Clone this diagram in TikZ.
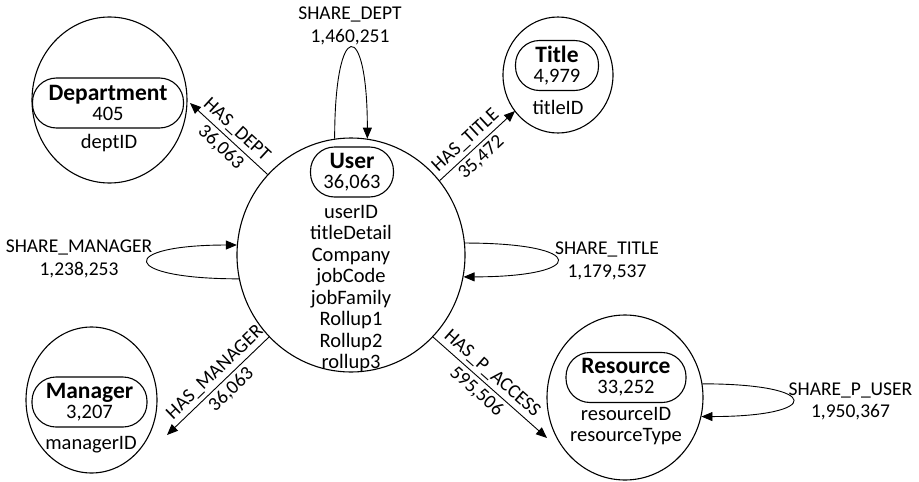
\documentclass[tikz,border=0pt]{standalone}
\usepackage{fontspec}
\setmainfont{Carlito}
\usetikzlibrary{arrows.meta,shapes.geometric,calc}
\newcommand\enttitle[1]{{\fontsize{23.5}{22}\selectfont\bfseries #1}}
\begin{document}
\begin{tikzpicture}[x=1pt,y=-1pt,
  entity/.style={draw, ellipse, line width=1.1pt, inner sep=0pt},
  pill/.style={draw, rectangle, rounded corners=24pt, line width=1.1pt, minimum height=50pt,
    inner sep=0pt, align=center, font=\fontsize{20.5}{20}\selectfont},
  attr/.style={align=center, inner sep=0pt, font=\fontsize{20.5}{21.5}\selectfont},
  rel/.style={line width=0.9pt, -{Triangle[length=11pt,width=9pt]}},
  lbl/.style={align=center, inner sep=0pt, font=\fontsize{19.5}{22.5}\selectfont},
  slbl/.style={sloped, inner sep=3.5pt, font=\fontsize{19.5}{19.5}\selectfont}
]
\useasboundingbox (0,0) rectangle (919,482);

% ---- entities ----
\node[entity, minimum width=228pt, minimum height=234pt] (user) at (351,255) {};
\node[pill, minimum width=83pt] (userpill) at (352,172) {\enttitle{User}\\36,063};
\node[attr] (userattr) at (351,288.5) {userID\\titleDetail\\Company\\jobCode\\jobFamily\\Rollup1\\Rollup2\\rollup3};

\node[entity, minimum width=155pt, minimum height=166pt] (dept) at (109.5,100) {};
\node[pill, minimum width=151pt] (deptpill) at (108,103) {\enttitle{Department}\\405};
\node[attr] (deptattr) at (109,143) {deptID};

\node[entity, minimum width=110pt, minimum height=116pt] (title) at (558,75) {};
\node[pill, minimum width=83pt] (titlepill) at (557,65.5) {\enttitle{Title}\\4,979};
\node[attr] (titleattr) at (558,107) {titleID};

\node[entity, minimum width=131pt, minimum height=146pt] (manager) at (91.5,400) {};
\node[pill, minimum width=115pt] (managerpill) at (89.5,402) {\enttitle{Manager}\\3,207};
\node[attr] (managerattr) at (91,445) {managerID};

\node[entity, minimum width=156pt, minimum height=165pt] (resource) at (625,397.5) {};
\node[pill, minimum width=120pt] (resourcepill) at (626,377.5) {\enttitle{Resource}\\33,252};
\node[attr] (resourceattr) at (626,426) {resourceID\\resourceType};

% ---- relationships ----
\draw[rel] (user.136) -- ([shift={(80.5,3)}]dept.center)
  node[slbl, above, pos=0.5] (hasdept) {HAS\_DEPT}
  node[slbl, below, pos=0.5] (hasdeptn) {36,063};
\draw[rel] (user.40) -- ([shift={(-43,36)}]title.center)
  node[slbl, above, pos=0.45] (hastitle) {HAS\_TITLE}
  node[slbl, below, pos=0.45] (hastitlen) {35,472};
\draw[rel] (user.225) -- ([shift={(75.5,35)}]manager.center)
  node[slbl, above, pos=0.45] (hasmgr) {HAS\_MANAGER}
  node[slbl, below, pos=0.45] (hasmgrn) {36,063};
\draw[rel] (user.-45) -- ([shift={(-78,40.5)}]resource.center)
  node[slbl, above, pos=0.45] (hasacc) {HAS\_P\_ACCESS}
  node[slbl, below, pos=0.45] (hasaccn) {595,506};

% ---- self loops ----
\draw[rel] (user.98) .. controls +(0,-121) and +(0,-121) .. (user.82);
\node[lbl] (sharedept) at (350,26) {SHARE\_DEPT\\1,460,251};

\draw[rel] (user.192) .. controls +(-120,0) and +(-120,0) .. (user.175.5);
\node[lbl] (sharemgr) at (79,259) {SHARE\_MANAGER\\1,238,253};

\draw[rel] (user.6) .. controls +(124,0) and +(124,0) .. (user.-11);
\node[lbl] (sharetitle) at (607,261) {SHARE\_TITLE\\1,179,537};

\draw[rel] (resource.10.7) .. controls +(121,0) and +(121,0) .. (resource.-14.2);
\node[lbl] (sharepuser) at (850.5,401.5) {SHARE\_P\_USER\\1,950,367};
\end{tikzpicture}
\end{document}
